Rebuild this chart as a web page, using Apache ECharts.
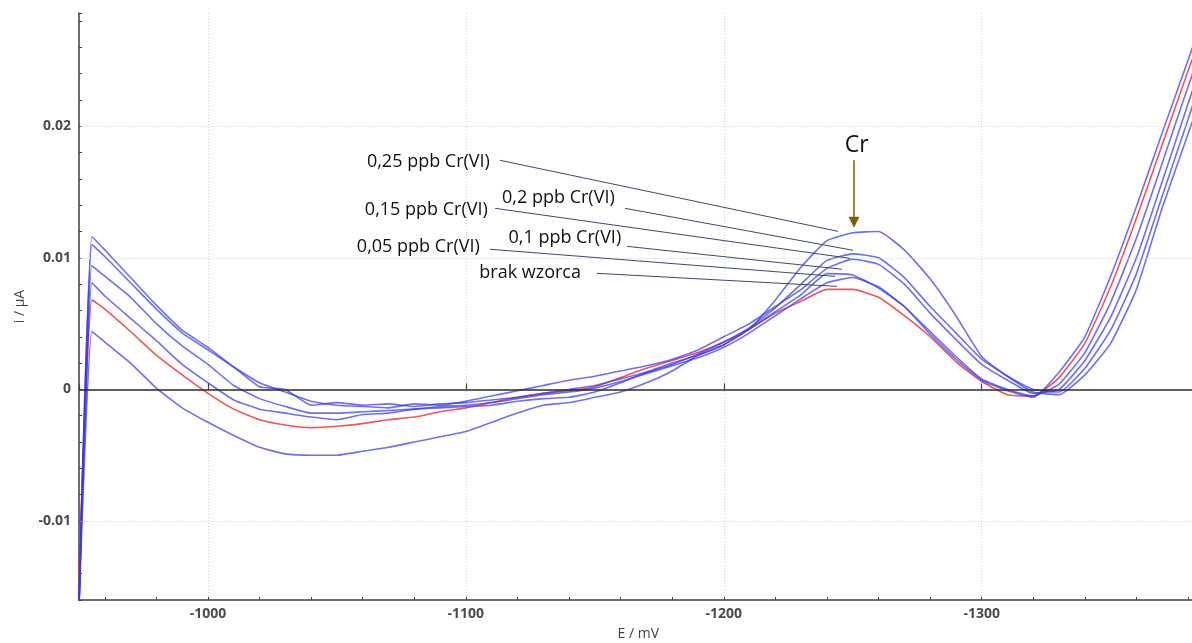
<!DOCTYPE html>
<html>
<head>
<meta charset="utf-8">
<script src="https://cdn.jsdelivr.net/npm/echarts@6.0.0/dist/echarts.min.js"></script>
<style>
html,body{margin:0;padding:0;background:#ffffff;}
#chart{width:1192px;height:643px;}
</style>
</head>
<body>
<div id="chart"></div>
<script>
// Potential, mV
const potentials = [-950, -955, -960, -970, -980, -990, -1000, -1010, -1020, -1030, -1040, -1050, -1060, -1070, -1080, -1090,
  -1100, -1110, -1120, -1130, -1140, -1150, -1160, -1170, -1180, -1190, -1200, -1210, -1220, -1230, -1240, -1250,
  -1260, -1270, -1280, -1290, -1300, -1310, -1320, -1330, -1340, -1350, -1360, -1370, -1380, -1390];

// Current, µA
const brakWzorca = [-0.0140, 0.0068, 0.0061, 0.0044, 0.0026, 0.0011, -0.0003, -0.0015, -0.0023, -0.0027, -0.0029, -0.0028, -0.0026, -0.0023, -0.0021, -0.0017,
  -0.0014, -0.0010, -0.0006, -0.0003, -0.0001, 0.0002, 0.0009, 0.0016, 0.0022, 0.0028, 0.0036, 0.0046, 0.0058, 0.0067, 0.0076, 0.0076,
  0.0070, 0.0056, 0.0040, 0.0021, 0.0006, -0.0004, -0.0005, 0.0009, 0.0035, 0.0078, 0.0130, 0.0186, 0.0242, 0.0295];
const cr005 = [-0.0165, 0.0081, 0.0071, 0.0054, 0.0037, 0.0019, 0.0005, -0.0008, -0.0015, -0.0018, -0.0021, -0.0023, -0.0019, -0.0018, -0.0015, -0.0013,
  -0.0012, -0.0010, -0.0007, -0.0004, -0.0002, 0.0001, 0.0006, 0.0012, 0.0018, 0.0024, 0.0032, 0.0043, 0.0056, 0.0069, 0.0081, 0.0085,
  0.0078, 0.0063, 0.0042, 0.0023, 0.0007, -0.0001, -0.0006, 0.0013, 0.0040, 0.0086, 0.0139, 0.0195, 0.0250, 0.0305];
const cr010 = [-0.0165, 0.0094, 0.0086, 0.0070, 0.0050, 0.0033, 0.0019, 0.0003, -0.0007, -0.0013, -0.0018, -0.0018, -0.0017, -0.0016, -0.0015, -0.0014,
  -0.0013, -0.0012, -0.0009, -0.0007, -0.0006, -0.0002, 0.0005, 0.0013, 0.0020, 0.0026, 0.0034, 0.0046, 0.0059, 0.0072, 0.0088, 0.0087,
  0.0077, 0.0063, 0.0044, 0.0025, 0.0008, 0.0000, -0.0005, 0.0004, 0.0028, 0.0066, 0.0115, 0.0172, 0.0230, 0.0285];
const cr015 = [-0.0165, 0.0110, 0.0101, 0.0081, 0.0061, 0.0043, 0.0030, 0.0017, 0.0005, -0.0002, -0.0009, -0.0012, -0.0013, -0.0014, -0.0011, -0.0012,
  -0.0009, -0.0005, -0.0001, 0.0003, 0.0007, 0.0010, 0.0014, 0.0018, 0.0023, 0.0030, 0.0040, 0.0050, 0.0063, 0.0076, 0.0092, 0.0099,
  0.0095, 0.0080, 0.0058, 0.0038, 0.0019, 0.0007, -0.0003, 0.0000, 0.0022, 0.0055, 0.0100, 0.0158, 0.0217, 0.0275];
const cr020 = [-0.0165, 0.0116, 0.0106, 0.0085, 0.0064, 0.0045, 0.0032, 0.0017, 0.0002, 0.0000, -0.0012, -0.0010, -0.0012, -0.0011, -0.0013, -0.0011,
  -0.0010, -0.0008, -0.0006, -0.0003, 0.0000, 0.0003, 0.0008, 0.0013, 0.0019, 0.0027, 0.0036, 0.0047, 0.0062, 0.0080, 0.0098, 0.0103,
  0.0100, 0.0085, 0.0063, 0.0043, 0.0023, 0.0010, 0.0000, -0.0002, 0.0016, 0.0045, 0.0088, 0.0147, 0.0205, 0.0265];
const cr025 = [-0.0165, 0.0044, 0.0036, 0.0020, 0.0001, -0.0014, -0.0025, -0.0035, -0.0044, -0.0049, -0.0050, -0.0050, -0.0047, -0.0044, -0.0040, -0.0036,
  -0.0032, -0.0025, -0.0018, -0.0012, -0.0010, -0.0006, -0.0002, 0.0005, 0.0014, 0.0026, 0.0034, 0.0046, 0.0068, 0.0093, 0.0113, 0.0119,
  0.0120, 0.0106, 0.0084, 0.0056, 0.0025, 0.0010, -0.0002, -0.0004, 0.0011, 0.0035, 0.0076, 0.0138, 0.0194, 0.0250];

const xTickLabels = [-1000, -1100, -1200, -1300];
const yTickLabels = [-0.01, 0, 0.01, 0.02];

const annotationTexts = ['0,25 ppb Cr(VI)', '0,2 ppb Cr(VI)', '0,15 ppb Cr(VI)', '0,1 ppb Cr(VI)', '0,05 ppb Cr(VI)', 'brak wzorca'];
const annotationTextAt = [[-1110.1, 0.01726], [-1158.5, 0.01452], [-1109.3, 0.01361], [-1161.0, 0.01148], [-1106.2, 0.01080], [-1145.4, 0.00882]];
const annotationFrom = [[-1113.2, 0.01741], [-1161.7, 0.01376], [-1111.3, 0.01376], [-1162.5, 0.01087], [-1109.3, 0.01065], [-1150.8, 0.00882]];
const annotationTo = [[-1244.3, 0.01201], [-1250.1, 0.01057], [-1248.9, 0.00996], [-1245.8, 0.00913], [-1243.1, 0.00859], [-1243.9, 0.00783]];
const peakLabel = 'Cr';
const peakLabelAt = [-1251.5, 0.01855];
const peakArrowFrom = [-1250.5, 0.01741];
const peakArrowTo = [-1250.5, 0.01270];

const FONT = "'Open Sans', 'Noto Sans', sans-serif";
const pairs = arr => potentials.map((e, i) => [e, arr[i]]);
const isOneOf = (v, list) => list.some(t => Math.abs(t - v) < 1e-9);

const BLUE = 'rgba(55,55,235,0.72)';
const RED = 'rgba(240,55,55,0.85)';

const curveSeries = [
  {name: 'brak wzorca', data: brakWzorca, color: RED},
  {name: '0,05 ppb Cr(VI)', data: cr005, color: BLUE},
  {name: '0,1 ppb Cr(VI)', data: cr010, color: BLUE},
  {name: '0,15 ppb Cr(VI)', data: cr015, color: BLUE},
  {name: '0,2 ppb Cr(VI)', data: cr020, color: BLUE},
  {name: '0,25 ppb Cr(VI)', data: cr025, color: BLUE}
].map(s => ({
  type: 'line', name: s.name, data: pairs(s.data), xAxisIndex: 0, yAxisIndex: 0,
  showSymbol: false, symbol: 'none', smooth: 0.15, z: 3, silent: true,
  lineStyle: {color: s.color, width: 1.6}
}));

const chart = echarts.init(document.getElementById('chart'), null, {renderer: 'canvas'});
chart.setOption({
  animation: false,
  backgroundColor: '#ffffff',
  grid: {left: 79, top: 13, width: 1160.6, height: 587, outerBoundsMode: 'none', containLabel: false},
  xAxis: [
    {
      type: 'value', min: -1400, max: -950, inverse: true, interval: 20,
      axisLine: {show: true, onZero: false, lineStyle: {color: '#404040', width: 1.5}},
      axisTick: {show: true, inside: true, length: 3, lineStyle: {color: '#404040', width: 1}},
      axisLabel: {
        show: true, margin: 7, fontSize: 14, color: '#4a4a4a', fontFamily: FONT, fontWeight: 'bold',
        formatter: v => isOneOf(v, xTickLabels) ? String(v) : ''
      },
      splitLine: {show: false},
      name: 'E / mV', nameLocation: 'middle', nameGap: 27,
      nameTextStyle: {fontSize: 14, color: '#444', fontFamily: FONT, padding: [0, 42, 0, 0]}
    },
    {
      type: 'value', min: -1400, max: -950, inverse: true, interval: 100, position: 'bottom',
      axisLine: {show: false},
      axisTick: {show: true, inside: true, length: 6, lineStyle: {color: '#404040', width: 1.2}},
      axisLabel: {show: false},
      splitLine: {show: true, lineStyle: {color: '#cfcfcf', width: 1, type: [1, 2]}}
    }
  ],
  yAxis: [
    {
      type: 'value', min: -0.016, max: 0.0286, interval: 0.002,
      axisLine: {show: true, onZero: false, lineStyle: {color: '#404040', width: 1.5}},
      axisTick: {show: true, inside: true, length: 3, lineStyle: {color: '#404040', width: 1}},
      axisLabel: {
        show: true, margin: 8, fontSize: 14, color: '#4a4a4a', fontFamily: FONT, fontWeight: 'bold',
        formatter: v => isOneOf(v, yTickLabels) ? String(Math.round(v * 100) / 100) : ''
      },
      splitLine: {show: false},
      name: 'i / µA', nameLocation: 'middle', nameGap: 52,
      nameTextStyle: {fontSize: 14, color: '#444', fontFamily: FONT}
    }
  ],
  series: [
    {
      type: 'line', name: 'grid', data: [[-1000, 0]], showSymbol: false, symbol: 'none', silent: true, z: 1,
      lineStyle: {opacity: 0},
      markLine: {
        silent: true, symbol: ['none', 'none'], label: {show: false}, animation: false,
        data: [
          {yAxis: 0.02, lineStyle: {color: '#cfcfcf', width: 1, type: [1, 2]}},
          {yAxis: 0.01, lineStyle: {color: '#cfcfcf', width: 1, type: [1, 2]}},
          {yAxis: -0.01, lineStyle: {color: '#cfcfcf', width: 1, type: [1, 2]}},
          {yAxis: 0, lineStyle: {color: '#2a2a2a', width: 1.5, type: 'solid'}}
        ]
      }
    },
    ...curveSeries,
    {
      type: 'line', name: 'annotations', data: [[-1000, 0]], showSymbol: false, symbol: 'none', silent: true, z: 5,
      lineStyle: {opacity: 0},
      markLine: {
        silent: true, symbol: ['none', 'none'], label: {show: false}, animation: false,
        lineStyle: {color: '#3c4a6a', width: 1, type: 'solid'},
        data: annotationTexts.map((t, i) => [{coord: annotationFrom[i]}, {coord: annotationTo[i]}])
      },
      markPoint: {
        silent: true, symbol: 'circle', symbolSize: 0, animation: false,
        label: {show: true, position: 'left', distance: 2, color: '#111', fontSize: 18, fontFamily: FONT, formatter: p => p.name},
        data: annotationTexts.map((t, i) => ({name: t, coord: annotationTextAt[i]})).concat([
          {name: peakLabel, coord: peakLabelAt, label: {position: 'inside', fontSize: 23, color: '#111'}}
        ])
      }
    },
    {
      type: 'line', name: 'arrow', data: [[-1000, 0]], showSymbol: false, symbol: 'none', silent: true, z: 6,
      lineStyle: {opacity: 0},
      markLine: {
        silent: true, symbol: ['none', 'triangle'], symbolSize: 11, label: {show: false}, animation: false,
        itemStyle: {color: '#7f6000'},
        lineStyle: {color: '#7f6000', width: 1.5, type: 'solid'},
        data: [[{coord: peakArrowFrom}, {coord: peakArrowTo}]]
      }
    }
  ]
});
</script>
</body>
</html>
